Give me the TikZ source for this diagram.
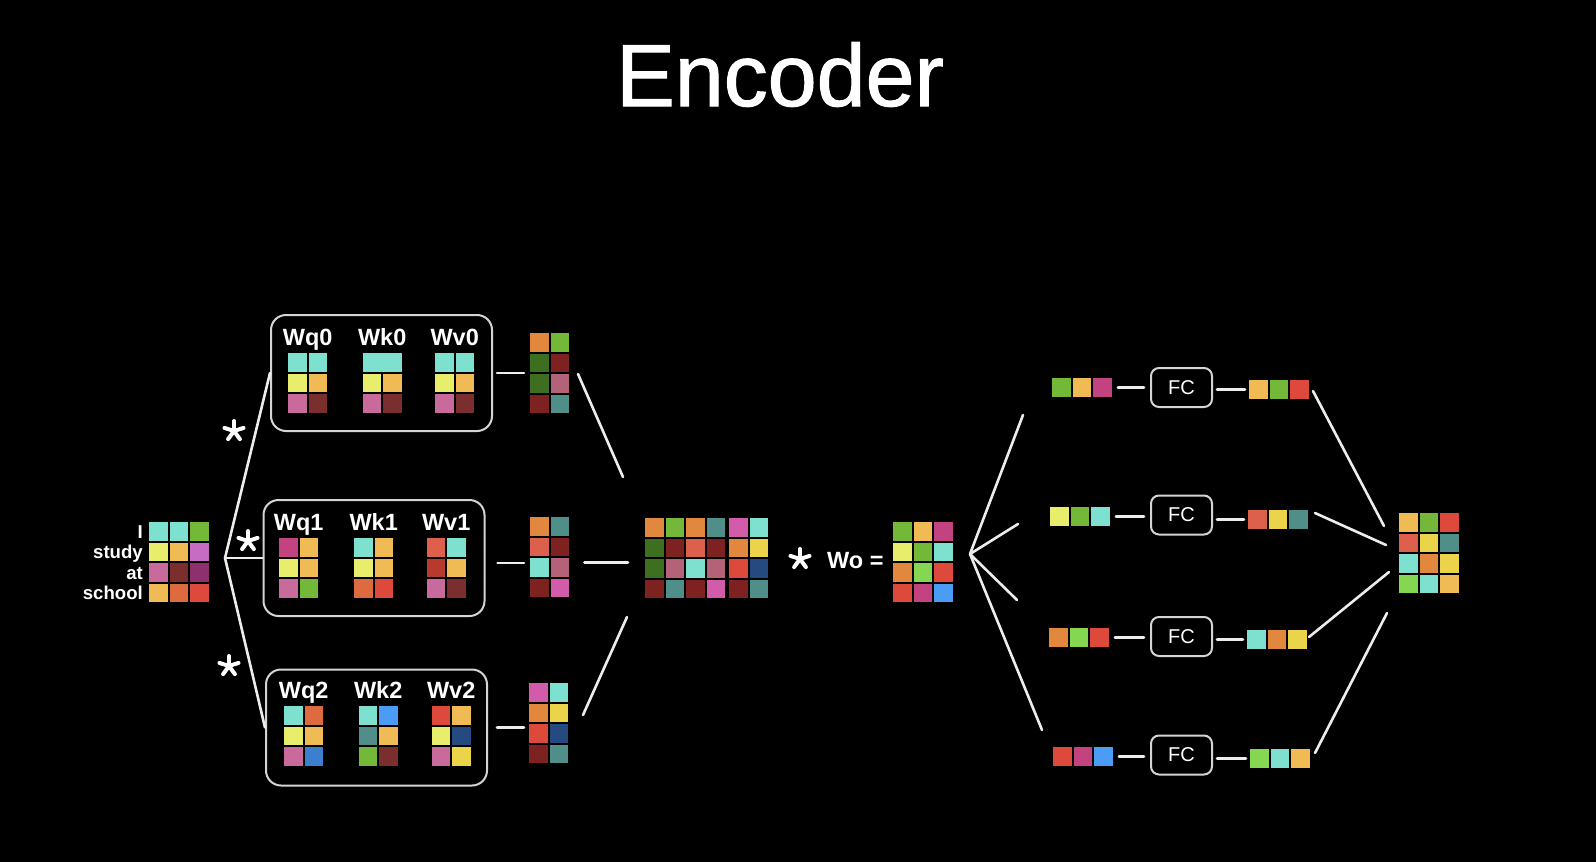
\documentclass[tikz,border=0pt]{standalone}
\usepackage{fontspec}
\setmainfont{Liberation Sans}
\newfontfamily\titlefont[FakeBold=1.2]{Liberation Sans}
\usetikzlibrary{matrix}
\definecolor{cy}{HTML}{7EE0CF}
\definecolor{yl}{HTML}{E8EE6C}
\definecolor{lo}{HTML}{F0BA55}
\definecolor{pk}{HTML}{C96A9C}
\definecolor{mr}{HTML}{7B2E2E}
\definecolor{gr}{HTML}{74B83A}
\definecolor{mg}{HTML}{C2437F}
\definecolor{pu}{HTML}{8E2F6E}
\definecolor{og}{HTML}{E2873E}
\definecolor{rd}{HTML}{DD4A3B}
\definecolor{dg}{HTML}{3E6E20}
\definecolor{dr}{HTML}{7D2121}
\definecolor{ro}{HTML}{B4627A}
\definecolor{tl}{HTML}{4F8E89}
\definecolor{sa}{HTML}{DC604C}
\definecolor{hp}{HTML}{D25BAA}
\definecolor{gd}{HTML}{EBD34A}
\definecolor{nv}{HTML}{244A80}
\definecolor{bl}{HTML}{3D7FCF}
\definecolor{sk}{HTML}{4B9CF5}
\definecolor{lg}{HTML}{85D650}
\definecolor{oc}{HTML}{C66CC2}
\definecolor{bk}{HTML}{B83A2F}
\definecolor{tg}{HTML}{DE6A3F}
\definecolor{rim}{HTML}{D4D4D4}
\definecolor{wire}{HTML}{EDEDED}
\tikzstyle{cell} = [rectangle, minimum size=19.5pt, inner sep=0pt, draw=black, line width=1pt]
\tikzstyle{mat} = [ampersand replacement=\&, anchor=north west, inner sep=0pt, column sep=0pt, row sep=0pt]
\tikzstyle{head} = [draw=rim, line width=2pt, rounded corners=15pt, minimum width=221pt, minimum height=116pt]
\tikzstyle{fc} = [draw=rim, line width=2pt, rounded corners=8pt, minimum width=61pt, minimum height=39pt, text=white, font=\fontsize{20}{20}\selectfont]
\tikzstyle{link} = [draw=wire, line width=2.6pt, line cap=round]
\tikzstyle{wlab} = [text=white, inner sep=0pt, anchor=base, font=\bfseries\fontsize{23.5}{24}\selectfont]
\tikzstyle{tok} = [text=white, inner sep=0pt, anchor=base east, font=\bfseries\fontsize{18.6}{19}\selectfont]
\tikzset{mul/.pic={\foreach \a in {90,18,162,234,306} \draw[white, line width=4pt, line cap=round] (0,0) -- (\a:10pt);}}
\newcommand{\Cy}{\node [cell, fill=cy] {};}
\newcommand{\Yl}{\node [cell, fill=yl] {};}
\newcommand{\Lo}{\node [cell, fill=lo] {};}
\newcommand{\Pk}{\node [cell, fill=pk] {};}
\newcommand{\Mr}{\node [cell, fill=mr] {};}
\newcommand{\Gr}{\node [cell, fill=gr] {};}
\newcommand{\Mg}{\node [cell, fill=mg] {};}
\newcommand{\Pu}{\node [cell, fill=pu] {};}
\newcommand{\Og}{\node [cell, fill=og] {};}
\newcommand{\Rd}{\node [cell, fill=rd] {};}
\newcommand{\Dg}{\node [cell, fill=dg] {};}
\newcommand{\Dr}{\node [cell, fill=dr] {};}
\newcommand{\Ro}{\node [cell, fill=ro] {};}
\newcommand{\Tl}{\node [cell, fill=tl] {};}
\newcommand{\Sa}{\node [cell, fill=sa] {};}
\newcommand{\Hp}{\node [cell, fill=hp] {};}
\newcommand{\Gd}{\node [cell, fill=gd] {};}
\newcommand{\Nv}{\node [cell, fill=nv] {};}
\newcommand{\Bl}{\node [cell, fill=bl] {};}
\newcommand{\Sk}{\node [cell, fill=sk] {};}
\newcommand{\Lg}{\node [cell, fill=lg] {};}
\newcommand{\Oc}{\node [cell, fill=oc] {};}
\newcommand{\Bk}{\node [cell, fill=bk] {};}
\newcommand{\Tg}{\node [cell, fill=tg] {};}
\begin{document}
\begin{tikzpicture}[x=1pt, y=-1pt]
	\fill[black] (0,0) rectangle (1596,862);
	\node[text=white, inner sep=0pt, anchor=base, font=\titlefont\fontsize{88}{90}\selectfont] (title) at (780,106) {Encoder};

	% input
	\matrix (inp) at (148,521) [mat] { \Cy \& \Cy \& \Gr \\
		\Yl \& \Lo \& \Oc \\
		\Pk \& \Mr \& \Pu \\
		\Lo \& \Tg \& \Rd \\
	};
	\foreach \word [count=\i] in {I,study,at,school}
		\node[tok] (w\i) at (143,517.5+20.5*\i) {\word};

	% head 0
	\node[head] (hd0) at (381.5,373) {};
	\matrix (q0) at (287,352) [mat] { \Cy \& \Cy \\ \Yl \& \Lo \\ \Pk \& \Mr \\ };
	\matrix (k0) at (361.5,352) [mat] { \Cy \& \Cy \\ \Yl \& \Lo \\ \Pk \& \Mr \\ };
	\fill[cy] ([shift={(1pt,-1pt)}]k0.north west) rectangle ([shift={(-1pt,-19.5pt)}]k0.north east);
	\matrix (v0) at (434,352) [mat] { \Cy \& \Cy \\ \Yl \& \Lo \\ \Pk \& \Mr \\ };
	\node[wlab] (lq0) at ([yshift=7pt]q0.north) {Wq0};
	\node[wlab] (lk0) at ([yshift=7pt]k0.north) {Wk0};
	\node[wlab] (lv0) at ([yshift=7pt]v0.north) {Wv0};
	\matrix (o0) at (529,332) [mat] { \Og \& \Gr \\ \Dg \& \Dr \\ \Dg \& \Ro \\ \Dr \& \Tl \\ };

	% head 1
	\node[head] (hd1) at (374,558) {};
	\matrix (q1) at (278,537) [mat] { \Mg \& \Lo \\ \Yl \& \Lo \\ \Pk \& \Gr \\ };
	\matrix (k1) at (353,537) [mat] { \Cy \& \Lo \\ \Yl \& \Lo \\ \Tg \& \Rd \\ };
	\matrix (v1) at (425.5,537) [mat] { \Sa \& \Cy \\ \Bk \& \Lo \\ \Pk \& \Mr \\ };
	\node[wlab] (lq1) at ([yshift=7pt]q1.north) {Wq1};
	\node[wlab] (lk1) at ([yshift=7pt]k1.north) {Wk1};
	\node[wlab] (lv1) at ([yshift=7pt]v1.north) {Wv1};
	\matrix (o1) at (529,516) [mat] { \Og \& \Tl \\ \Sa \& \Dr \\ \Cy \& \Ro \\ \Dr \& \Hp \\ };

	% head 2
	\node[head] (hd2) at (376.5,727.5) {};
	\matrix (q2) at (283,705) [mat] { \Cy \& \Tg \\ \Yl \& \Lo \\ \Pk \& \Bl \\ };
	\matrix (k2) at (357.5,705) [mat] { \Cy \& \Sk \\ \Tl \& \Lo \\ \Gr \& \Mr \\ };
	\matrix (v2) at (430.5,705) [mat] { \Rd \& \Lo \\ \Yl \& \Nv \\ \Pk \& \Gd \\ };
	\node[wlab] (lq2) at ([yshift=7pt]q2.north) {Wq2};
	\node[wlab] (lk2) at ([yshift=7pt]k2.north) {Wk2};
	\node[wlab] (lv2) at ([yshift=7pt]v2.north) {Wv2};
	\matrix (o2) at (528,682) [mat] { \Hp \& \Cy \\ \Og \& \Gd \\ \Rd \& \Nv \\ \Dr \& \Tl \\ };

	\coordinate (fl) at (225,558);
	\draw[link] (fl) -- (hd0.west);
	\draw[link] (fl) -- (hd1.west);
	\draw[link] (fl) -- (hd2.west);
	\pic at (234,431) {mul};
	\pic at (248,541) {mul};
	\pic at (229,666) {mul};

	\draw[link, shorten <=4pt, shorten >=5pt] (hd0.east) -- (hd0.east -| o0.west);
	\draw[link, shorten <=12pt, shorten >=5pt] ([yshift=-5pt]hd1.east) -- ([yshift=-5pt]hd1.east -| o1.west);
	\draw[link, shorten <=9pt, shorten >=4pt] (hd2.east) -- (hd2.east -| o2.west);

	% concat * Wo
	\matrix (cat) at (644,517) [mat] { \Og \& \Gr \& \Og \& \Tl \&[2pt] \Hp \& \Cy \\
		\Dg \& \Dr \& \Sa \& \Dr \& \Og \& \Gd \\
		\Dg \& \Ro \& \Cy \& \Ro \& \Rd \& \Nv \\
		\Dr \& \Tl \& \Dr \& \Hp \& \Dr \& \Tl \\
	};
	\coordinate (a0) at (578,374);
	\coordinate (b0) at (623,477);
	\coordinate (a2) at (583,715);
	\coordinate (b2) at (627,617);
	\draw[link] (a0) -- (b0);
	\draw[link, shorten <=14pt, shorten >=16pt] ([yshift=-5pt]o1.east) -- ([yshift=-5pt]o1.east -| cat.west);
	\draw[link] (a2) -- (b2);
	\pic at (800,559) {mul};
	\node[wlab, anchor=base west] (wol) at (827,568) {Wo =};
	\matrix (wo) at (892,521) [mat] { \Gr \& \Lo \& \Mg \\
		\Yl \& \Gr \& \Cy \\
		\Og \& \Lg \& \Rd \\
		\Rd \& \Mg \& \Sk \\
	};

	% per token FC
	\coordinate (fr) at (970,554);
	\coordinate (e0) at (1023,415);
	\coordinate (e1) at (1018,524);
	\coordinate (e2) at (1017,600);
	\coordinate (e3) at (1042,730);
	\foreach \i in {0,...,3}
		\draw[link] (fr) -- (e\i);

	\matrix (fi0) at (1051,377) [mat] { \Gr \& \Lo \& \Mg \\ };
	\matrix (fi1) at (1049,506) [mat] { \Yl \& \Gr \& \Cy \\ };
	\matrix (fi2) at (1048,627) [mat] { \Og \& \Lg \& \Rd \\ };
	\matrix (fi3) at (1052,746) [mat] { \Rd \& \Mg \& \Sk \\ };
	\node[fc] (fc0) at (1181.5,387.5) {FC};
	\node[fc] (fc1) at (1181.5,515) {FC};
	\node[fc] (fc2) at (1181.5,636.5) {FC};
	\node[fc] (fc3) at (1181.5,755) {FC};
	\matrix (fo0) at (1248,379) [mat] { \Lo \& \Gr \& \Rd \\ };
	\matrix (fo1) at (1247,509) [mat] { \Sa \& \Gd \& \Tl \\ };
	\matrix (fo2) at (1246,629) [mat] { \Cy \& \Og \& \Gd \\ };
	\matrix (fo3) at (1249,748) [mat] { \Lg \& \Cy \& \Lo \\ };
	\foreach \i in {0,...,3} {
		\draw[link, shorten <=5pt, shorten >=6pt] (fi\i.east) -- (fi\i.east -| fc\i.west);
		\draw[link, shorten <=4pt, shorten >=3pt] (fc\i.east |- fo\i) -- (fo\i.west);
	}

	\coordinate (g0) at (1313,391);
	\coordinate (g1) at (1315,513);
	\coordinate (g2) at (1309,637);
	\coordinate (g3) at (1315,753);
	\coordinate (h0) at (1384,526);
	\coordinate (h1) at (1386,545);
	\coordinate (h2) at (1389,572);
	\coordinate (h3) at (1387,613);
	\foreach \i in {0,...,3}
		\draw[link] (g\i) -- (h\i);
	\matrix (out) at (1398,512) [mat] { \Lo \& \Gr \& \Rd \\
		\Sa \& \Gd \& \Tl \\
		\Cy \& \Og \& \Gd \\
		\Lg \& \Cy \& \Lo \\
	};
\end{tikzpicture}
\end{document}
